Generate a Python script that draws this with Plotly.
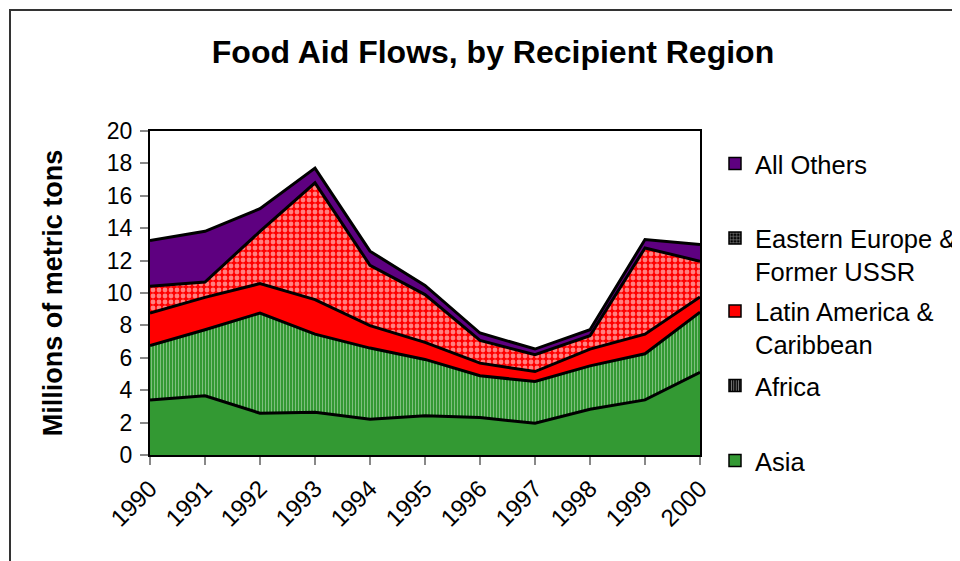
import plotly.graph_objects as go

years = [1990, 1991, 1992, 1993, 1994, 1995, 1996, 1997, 1998, 1999, 2000]
asia = [3.40, 3.65, 2.58, 2.64, 2.21, 2.43, 2.31, 1.96, 2.82, 3.40, 5.11]
africa = [3.36, 4.08, 6.18, 4.82, 4.39, 3.47, 2.58, 2.58, 2.68, 2.85, 3.71]
latin = [2.00, 2.00, 1.82, 2.13, 1.38, 1.05, 0.78, 0.61, 1.04, 1.21, 0.93]
eeurope = [1.65, 0.95, 3.22, 7.21, 3.73, 2.95, 1.40, 1.04, 0.82, 5.32, 2.21]
others = [2.83, 3.13, 1.40, 0.91, 0.87, 0.57, 0.46, 0.35, 0.37, 0.52, 1.03]
tick_labels = [str(y) for y in years]

FONT = "Liberation Sans, Arial, sans-serif"
GREEN = "#339933"
RED = "#FF0000"
PURPLE = "#5E0080"

fig = go.Figure()

series = [
    ("Asia", asia, dict(fillcolor=GREEN)),
    ("Africa", africa, dict(fillcolor=GREEN, fillpattern=dict(shape="|", bgcolor=GREEN, fgcolor="#DDEEDD", size=3, solidity=0.3))),
    ("Latin America &<br>Caribbean", latin, dict(fillcolor=RED)),
    ("Eastern Europe &<br>Former USSR", eeurope, dict(fillcolor=RED, fillpattern=dict(shape=".", bgcolor=RED, fgcolor="white", size=6, solidity=0.5))),
    ("All Others", others, dict(fillcolor=PURPLE)),
]
for name, vals, extra in series:
    fig.add_trace(go.Scatter(
        x=years, y=vals, name=name, stackgroup="one", mode="lines",
        line=dict(color="black", width=3), showlegend=False, **extra))

# legend-only swatches (one legend each to place them like the original)
legend_items = [
    ("All Others", dict(color=PURPLE), 164, "legend"),
    ("Eastern Europe &<br>Former USSR", dict(color="black", pattern=dict(shape="+", fgcolor="white", bgcolor="black", size=4, solidity=0.4)), 255, "legend2"),
    ("Latin America &<br>Caribbean", dict(color=RED), 328, "legend3"),
    ("Africa", dict(color="black", pattern=dict(shape="|", fgcolor="white", bgcolor="black", size=3, solidity=0.4)), 386, "legend4"),
    ("Asia", dict(color=GREEN), 461, "legend5"),
]
layout_legends = {}
for name, mk, ypix, lg in legend_items:
    mk = dict(mk)
    mk["line"] = dict(color="black", width=1.5)
    fig.add_trace(go.Bar(x=[None], y=[None], name=name, marker=mk, legend=lg, showlegend=True))
    layout_legends[lg] = dict(
        x=(715 - 150) / 550, xanchor="left",
        y=(455 - ypix) / 324, yanchor="middle",
        bgcolor="rgba(0,0,0,0)", font=dict(family=FONT, size=25.5, color="black"),
        itemwidth=30, valign="top")

fig.update_layout(
    width=960, height=561,
    margin=dict(l=142, r=268, t=123, b=114, autoexpand=False),
    paper_bgcolor="white", plot_bgcolor="white",
    font=dict(family=FONT, color="black"),
    title=dict(text="<b>Food Aid Flows, by Recipient Region</b>",
               x=485 / 960, xanchor="center", y=1 - 44 / 561, yanchor="middle",
               font=dict(family=FONT, size=32, color="black")),
    **layout_legends,
)

fig.update_xaxes(
    range=[1990, 2000], tickvals=years, ticktext=tick_labels, tickangle=-45,
    ticks="outside", ticklen=8, tickcolor="#888888", tickwidth=2,
    showline=True, linecolor="black", linewidth=2, mirror=True,
    showgrid=False, zeroline=False, automargin=False,
    tickfont=dict(family=FONT, size=24, color="black"))
fig.update_yaxes(
    range=[0, 20], dtick=2, ticks="outside", ticklen=8, tickcolor="#888888", tickwidth=2,
    showline=True, linecolor="black", linewidth=2, mirror=True,
    showgrid=False, zeroline=False, ticklabelstandoff=3, automargin=False,
    tickfont=dict(family=FONT, size=23, color="black"),
    title=dict(text="<b>Millions of metric tons</b>", standoff=36,
               font=dict(family=FONT, size=27, color="black")))

# outer chart border
fig.add_shape(type="rect", xref="paper", yref="paper",
              x0=(10 - 150) / 550, x1=(975 - 150) / 550,
              y0=(455 - 580) / 324, y1=(455 - 10) / 324,
              line=dict(color="#333333", width=2), fillcolor="rgba(0,0,0,0)", layer="below")

fig.write_html("out.html")
